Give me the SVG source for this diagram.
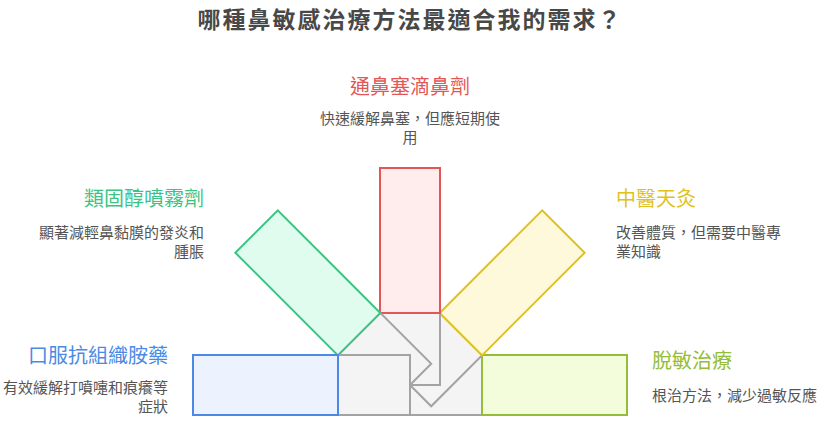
<svg xmlns="http://www.w3.org/2000/svg" width="821" height="426" viewBox="0 0 821 426">
  <style>
    text { font-family: "Noto Sans CJK TC", "Noto Sans CJK SC", "Noto Sans", sans-serif; }
    .title { font-size: 23px; font-weight: bold; fill: #484848; letter-spacing: 2px; }
    .head { font-size: 20px; }
    .desc { font-size: 15px; fill: #555555; }
    .hub { fill: #f4f4f4; stroke: #a3a3a3; stroke-width: 2; stroke-linejoin: miter; }
    .end { text-anchor: end; }
    .mid { text-anchor: middle; }
  </style>
  <rect width="821" height="426" fill="#ffffff"/>
  <text class="title mid" x="410" y="27.5">哪種鼻敏感治療方法最適合我的需求？</text>

  <g id="connectors"></g>

  <g id="node-desensitization">
    <rect class="hub" x="380" y="313" width="60" height="72" transform="rotate(90 410 385)"/>
    <rect x="380" y="168" width="60" height="145" fill="#f3fddb" stroke="#93be3a" stroke-width="2" transform="rotate(90 410 385)"/>
    <text class="head" x="652" y="367.5" fill="#93be3a">脫敏治療</text>
    <text class="desc" x="652" y="400.5">根治方法，減少過敏反應</text>
  </g>

  <g id="node-moxibustion">
    <rect class="hub" x="380" y="313" width="60" height="72" transform="rotate(45 410 385)"/>
    <rect x="380" y="168" width="60" height="145" fill="#fef9db" stroke="#dfc21c" stroke-width="2" transform="rotate(45 410 385)"/>
    <text class="head" x="616" y="206" fill="#dfc21c">中醫天灸</text>
    <text class="desc" x="616" y="238">改善體質，但需要中醫專</text>
    <text class="desc" x="616" y="257">業知識</text>
  </g>

  <g id="node-decongestant">
    <rect class="hub" x="380" y="313" width="60" height="72"/>
    <rect x="380" y="168" width="60" height="145" fill="#ffecec" stroke="#e45656" stroke-width="2"/>
    <text class="head mid" x="410" y="94" fill="#e45656">通鼻塞滴鼻劑</text>
    <text class="desc mid" x="410" y="124">快速緩解鼻塞，但應短期使</text>
    <text class="desc mid" x="410" y="143">用</text>
  </g>

  <g id="node-steroid">
    <rect class="hub" x="380" y="313" width="60" height="72" transform="rotate(-45 410 385)"/>
    <rect x="380" y="168" width="60" height="145" fill="#e0fcef" stroke="#3cc383" stroke-width="2" transform="rotate(-45 410 385)"/>
    <text class="head end" x="204" y="206" fill="#3cc383">類固醇噴霧劑</text>
    <text class="desc end" x="204" y="238">顯著減輕鼻黏膜的發炎和</text>
    <text class="desc end" x="204" y="257">腫脹</text>
  </g>

  <g id="node-antihistamine">
    <rect class="hub" x="380" y="313" width="60" height="72" transform="rotate(-90 410 385)"/>
    <rect x="380" y="168" width="60" height="145" fill="#edf3fe" stroke="#4b8ae4" stroke-width="2" transform="rotate(-90 410 385)"/>
    <text class="head end" x="168" y="362.5" fill="#4b8ae4">口服抗組織胺藥</text>
    <text class="desc end" x="168" y="393">有效緩解打噴嚏和痕癢等</text>
    <text class="desc end" x="168" y="412">症狀</text>
  </g>
</svg>
